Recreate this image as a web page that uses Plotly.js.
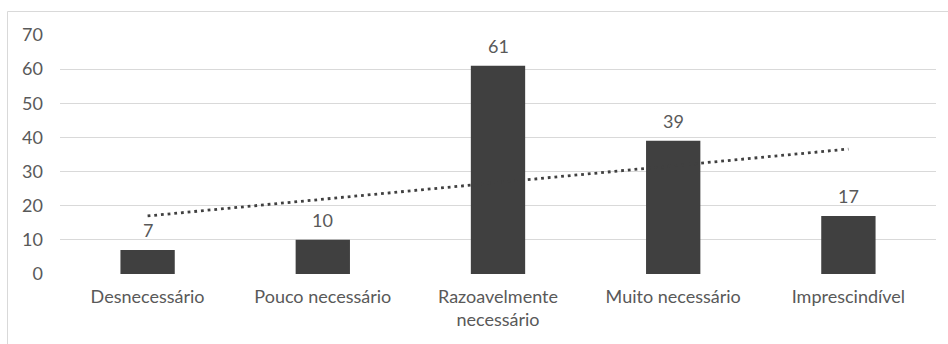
<!DOCTYPE html>
<html>
<head>
<meta charset="utf-8">
<script src="https://cdn.plot.ly/plotly-3.0.1.min.js"></script>
<style>
html,body{margin:0;padding:0;background:#fff;}
#chart{width:948px;height:344px;}
</style>
</head>
<body>
<div id="chart"></div>
<script>
const categories = ["Desnecessário", "Pouco necessário", "Razoavelmente<br>necessário", "Muito necessário", "Imprescindível"];
const values = [7, 10, 61, 39, 17];
const trendX = [categories[0], categories[4]];
const trendY = [17.0, 36.6];
const yTicks = [0, 10, 20, 30, 40, 50, 60, 70];

const font = {family: "Lato, 'Open Sans', sans-serif", size: 18, color: "#595959"};

const bars = {
  type: "bar",
  x: categories,
  y: values,
  marker: {color: "#404040", line: {width: 0}},
  hoverinfo: "none"
};
const trend = {
  type: "scatter",
  mode: "lines",
  x: trendX,
  y: trendY,
  line: {color: "#404040", width: 2.8, dash: "2.8px,3.9px"},
  hoverinfo: "none"
};

const annotations = values.map((v, i) => ({
  x: categories[i], y: v, xref: "x", yref: "y",
  text: String(v), showarrow: false, yanchor: "bottom", yshift: 7,
  font: font
}));

const layout = {
  width: 948, height: 344,
  margin: {l: 60, r: 12, t: 35, b: 70},
  paper_bgcolor: "#fff", plot_bgcolor: "#fff",
  showlegend: false,
  bargap: 0.69,
  font: font,
  xaxis: {
    type: "category",
    showgrid: false, zeroline: false,
    showline: false,
    ticks: "", tickfont: font,
    ticklabelstandoff: 10
  },
  yaxis: {
    range: [0, 70], tickvals: yTicks, ticktext: yTicks.map(String),
    showgrid: true, gridcolor: "#d9d9d9", gridwidth: 1,
    zeroline: false, showline: false, ticks: "",
    tickfont: font, ticklabelstandoff: 16
  },
  annotations: annotations,
  shapes: [
    {type: "line", xref: "paper", yref: "paper", x0: (7.5-60)/876, x1: 1.2, y0: (344-70-11.5)/239, y1: (344-70-11.5)/239, line: {color: "#d9d9d9", width: 1}},
    {type: "line", xref: "paper", yref: "paper", x0: (7.5-60)/876, x1: (7.5-60)/876, y0: (344-70-11.5)/239, y1: -0.5, line: {color: "#d9d9d9", width: 1}}
  ]
};

Plotly.newPlot("chart", [bars, trend], layout, {staticPlot: true, displayModeBar: false});
</script>
</body>
</html>
